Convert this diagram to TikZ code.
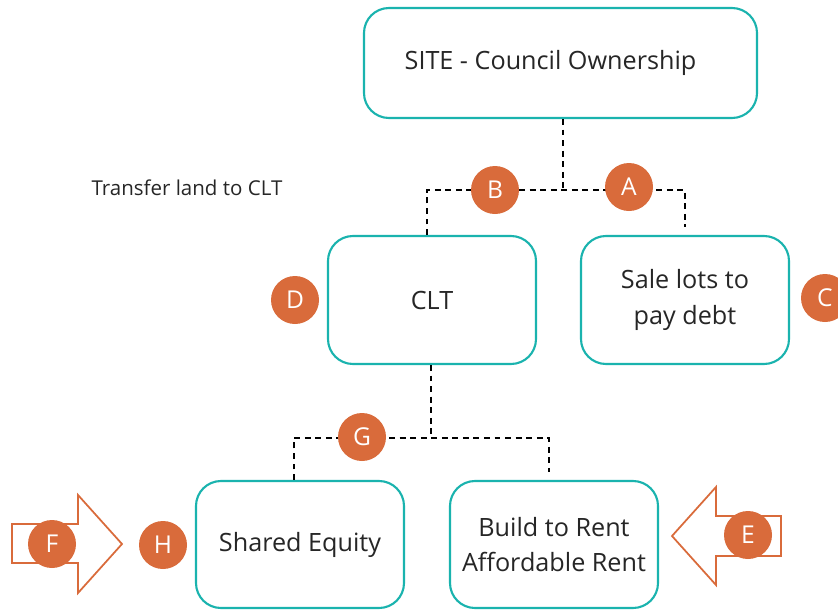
\documentclass[tikz,border=0pt]{standalone}
\usepackage{fontspec}
\setmainfont{Open Sans}
\usetikzlibrary{calc}
\definecolor{tealline}{HTML}{1AB3AE}
\definecolor{burnt}{HTML}{D96B3B}
\definecolor{inktext}{HTML}{262626}

\begin{document}
\begin{tikzpicture}[
  x=0.03cm, y=-0.03cm,
  box/.style={
    draw=tealline, line width=1.8pt, fill=white, rounded corners=0.75cm,
    minimum width=6.24cm, minimum height=3.84cm, align=center,
    font=\fontsize{21.5}{30.5}\selectfont, text=inktext
  },
  badge/.style={
    circle, fill=burnt, minimum size=1.44cm, inner sep=0pt,
    font=\fontsize{21}{24}\selectfont, text=white
  },
  link/.style={dashed, dash pattern=on 5pt off 4pt, line width=1.7pt, black},
  blockarrow/.style={draw=burnt, line width=1.5pt, fill=white},
]

% Frame
\clip (0,0) rectangle (838,610);
\useasboundingbox (0,0) rectangle (838,610);

% =============================================
% Boxes
% =============================================
\node[box, minimum width=11.79cm, minimum height=3.3cm] (site) at (560.5,63)
  {\hspace*{-0.6cm}SITE - Council Ownership};

\node[box] (clt) at (432,300) {CLT};
\node[box] (sale) at (685,300) {Sale lots to\\pay debt};

\node[box, minimum height=3.81cm] (equity) at (300,544.5) {Shared Equity};
\node[box, minimum height=3.81cm] (rent) at (554,544.5)
  {Build to Rent\\Affordable Rent};

% Side label
\node[font=\fontsize{17.5}{20}\selectfont, text=inktext] (transfer) at (187,188)
  {Transfer land to CLT};

% =============================================
% Dashed connectors
% =============================================
\coordinate (split1) at (563,190);
\coordinate (split2) at (431,438);

\draw[link] (site.south -| split1) -- (split1);
\draw[link] ([xshift=-0.15cm]clt.north) |- (split1)
  -| ([yshift=0.24cm]sale.north);

\draw[link] (clt.south -| split2) -- (split2);
\draw[link] ([xshift=-0.18cm]equity.north) |- (split2)
  -| ([yshift=0.24cm,xshift=-0.15cm]rent.north);

% =============================================
% Block arrows
% =============================================
\draw[blockarrow] (12,524) -- (78,524) -- (78,495) -- (122,544)
  -- (78,593) -- (78,563) -- (12,563) -- cycle;
\draw[blockarrow] (781,516) -- (716,516) -- (716,487) -- (672,536)
  -- (716,585) -- (716,556) -- (781,556) -- cycle;

% =============================================
% Badges
% =============================================
\node[badge] (bB) at (495,190) {B};
\node[badge] (bA) at (629,187) {A};
\node[badge] (bC) at (825,298) {C};
\node[badge] (bD) at (295,300) {D};
\node[badge] (bG) at (362,437) {G};
\node[badge] (bF) at (52,544) {F};
\node[badge] (bH) at (163,545) {H};
\node[badge] (bE) at (748,535) {E};

\end{tikzpicture}
\end{document}
